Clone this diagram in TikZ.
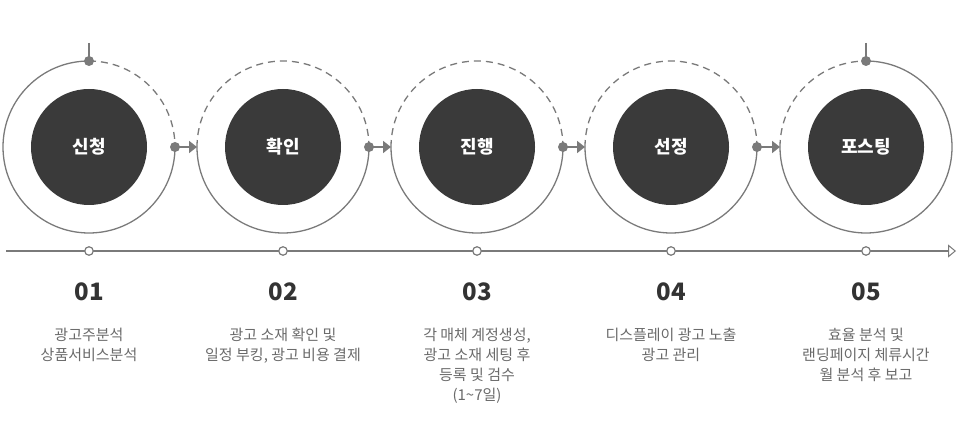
\documentclass[tikz,border=0pt]{standalone}
\usepackage{fontspec}
\setmainfont{Noto Sans CJK KR}
\usetikzlibrary{arrows.meta}
\definecolor{ringgray}{HTML}{7A7A7A}
\definecolor{darkfill}{HTML}{3A3A3A}
\definecolor{numcol}{HTML}{333333}
\definecolor{desccol}{HTML}{6A6A6A}
\begin{document}
\begin{tikzpicture}[x=1pt,y=1pt,
  ringpos/.style={circle,minimum size=172pt,inner sep=0pt,outer sep=0pt},
  core/.style={circle,fill=darkfill,minimum size=116pt,inner sep=0pt,outer sep=0pt,text=white,font=\fontsize{18pt}{20pt}\selectfont\bfseries},
  ring/.style={draw=ringgray,line width=1.3pt},
  dashring/.style={ring,dash pattern=on 7pt off 5pt},
  dotmark/.style={circle,fill=ringgray,minimum size=10pt,inner sep=0pt},
  link/.style={draw=ringgray,line width=1.8pt,-{Triangle[length=8pt,width=12pt]}},
  stem/.style={draw=ringgray,line width=1.5pt},
  timeline/.style={draw=ringgray,line width=1.3pt,-{Triangle[open,length=8pt,width=13pt,line width=1pt]}},
  tick/.style={circle,draw=ringgray,fill=white,line width=1.2pt,minimum size=8.5pt,inner sep=0pt},
  num/.style={anchor=base,text=numcol,font=\fontsize{24pt}{26pt}\selectfont\bfseries},
  desc/.style={anchor=north,align=center,inner sep=0pt,text=desccol,font=\fontsize{15pt}{20pt}\selectfont}
]
\useasboundingbox (0,0) rectangle (958,447);

% ring placements
\node[ringpos] (o1) at (89,300) {};
\node[ringpos] (o2) at (283,300) {};
\node[ringpos] (o3) at (477,300) {};
\node[ringpos] (o4) at (671,300) {};
\node[ringpos] (o5) at (866,300) {};

% ring 1
\draw[ring] (o1.north) arc[start angle=90,end angle=360,radius=86pt];
\draw[dashring] (o1.north) arc[start angle=90,end angle=0,radius=86pt];
% rings 2-4
\foreach \i in {2,3,4}{
  \draw[ring] (o\i.west) arc[start angle=180,end angle=360,radius=86pt];
  \draw[dashring] (o\i.west) arc[start angle=180,end angle=0,radius=86pt];
}
% ring 5
\draw[dashring] (o5.west) arc[start angle=180,end angle=90,radius=86pt];
\draw[ring] (o5.north) arc[start angle=90,end angle=-180,radius=86pt];

% cores
\node[core] (k1) at (o1.center) {신청};
\node[core] (k2) at (o2.center) {확인};
\node[core] (k3) at (o3.center) {진행};
\node[core] (k4) at (o4.center) {선정};
\node[core] (k5) at (o5.center) {포스팅};

% stems
\coordinate (s1) at (89,404);
\coordinate (s5) at (866,404);
\draw[stem] (s1) -- (o1.north);
\draw[stem] (s5) -- (o5.north);

% links
\draw[link] (o1.east) -- (o2.west);
\draw[link] (o2.east) -- (o3.west);
\draw[link] (o3.east) -- (o4.west);
\draw[link] (o4.east) -- (o5.west);

% dots
\node[dotmark] (m1) at (o1.north) {};
\node[dotmark] (m5) at (o5.north) {};
\foreach \i in {1,2,3,4}{
  \node[dotmark] (r\i) at (o\i.east) {};
}

% timeline
\coordinate (ta) at (6,196);
\coordinate (tb) at (956,196);
\draw[timeline] (ta) -- (tb);
\node[tick] (t1) at (89,196) {};
\node[tick] (t2) at (283,196) {};
\node[tick] (t3) at (477,196) {};
\node[tick] (t4) at (671,196) {};
\node[tick] (t5) at (866,196) {};

% numbers
\node[num] (n1) at (89,146) {01};
\node[num] (n2) at (283,146) {02};
\node[num] (n3) at (477,146) {03};
\node[num] (n4) at (671,146) {04};
\node[num] (n5) at (866,146) {05};

% descriptions
\node[desc] (d1) at (89,119) {광고주분석\\상품서비스분석};
\node[desc] (d2) at (283,119) {광고 소재 확인 및\\일정 부킹, 광고 비용 결제};
\node[desc] (d3) at (477,119) {각 매체 계정생성,\\광고 소재 세팅 후\\등록 및 검수\\(1\textasciitilde 7일)};
\node[desc] (d4) at (671,119) {디스플레이 광고 노출\\광고 관리};
\node[desc] (d5) at (866,119) {효율 분석 및\\랜딩페이지 체류시간\\월 분석 후 보고};
\end{tikzpicture}
\end{document}
